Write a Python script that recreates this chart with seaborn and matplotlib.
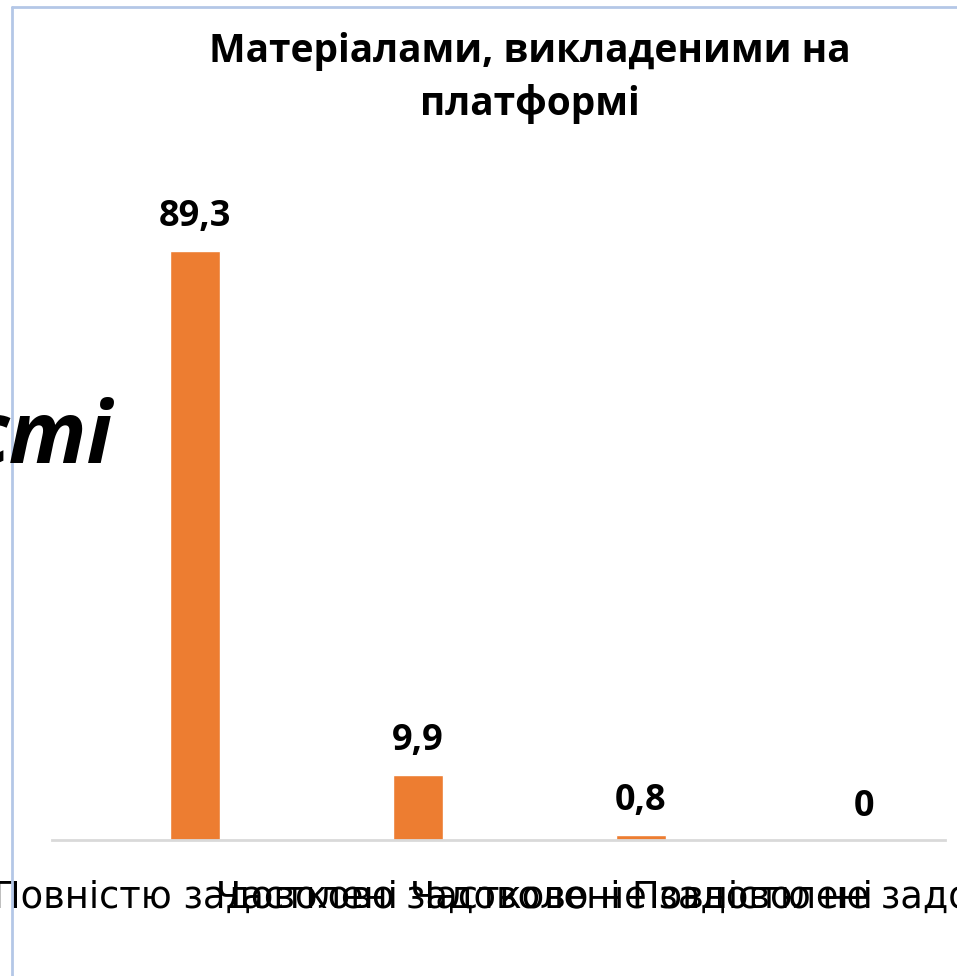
import matplotlib
matplotlib.use('Agg')
import matplotlib.pyplot as plt
from matplotlib.lines import Line2D
import seaborn as sns
import pandas as pd

# Data
categories = ['Повністю задоволені', 'Частково задоволені',
              'Частково не задоволені', 'Повністю не задоволені']
values = [89.3, 9.9, 0.8, 0.0]
value_labels = ['89,3', '9,9', '0,8', '0']
title = 'Матеріалами, викладеними на\nплатформі'

BAR_COLOR = '#ED7D31'
FRAME_COLOR = '#B4C7E7'

sns.set_style('white')
plt.rcParams['font.family'] = ['Open Sans', 'DejaVu Sans']
plt.rcParams['text.color'] = 'black'

df = pd.DataFrame({'category': categories, 'value': values})

fig = plt.figure(figsize=(9.57, 9.76), dpi=100)
ax = fig.add_axes([52 / 957, 136 / 976, (945 - 52) / 957, (840 - 180) / 976])

sns.barplot(data=df, x='category', y='value', color=BAR_COLOR,
            width=0.224, saturation=1, ax=ax)

ax.set_xlim(-0.641, 3.363)
ax.set_ylim(0, 100)
ax.set_xlabel('')
ax.set_ylabel('')
ax.set_yticks([])
ax.tick_params(axis='x', length=0, pad=28)
for lab in ax.get_xticklabels():
    lab.set_fontfamily('DejaVu Sans')
    lab.set_fontsize(26.5)
    lab.set_color('black')
for s in ['top', 'left', 'right']:
    ax.spines[s].set_visible(False)
ax.spines['bottom'].set_color('#D9D9D9')
ax.spines['bottom'].set_linewidth(2)

for i, (v, lab) in enumerate(zip(values, value_labels)):
    ax.annotate(lab, (i, v), xytext=(0, 24), textcoords='offset points',
                ha='center', va='center', fontsize=26, fontweight='bold')

fig.text(530 / 957, 1 - 78 / 976, title, ha='center', va='center',
         fontsize=28, fontweight='bold', linespacing=1.4)

# fragment of a larger heading cut off by the crop
fig.text(112 / 957, 1 - 440 / 976, 'сті', ha='right', va='center',
         fontsize=62, fontweight='bold', fontstyle='italic')

# chart frame
fig.add_artist(Line2D([12 / 957, 12 / 957], [0, 1 - 7 / 976],
                      transform=fig.transFigure, color=FRAME_COLOR, lw=2))
fig.add_artist(Line2D([12 / 957, 1], [1 - 7 / 976, 1 - 7 / 976],
                      transform=fig.transFigure, color=FRAME_COLOR, lw=2))

fig.savefig('out.png', dpi=100)
